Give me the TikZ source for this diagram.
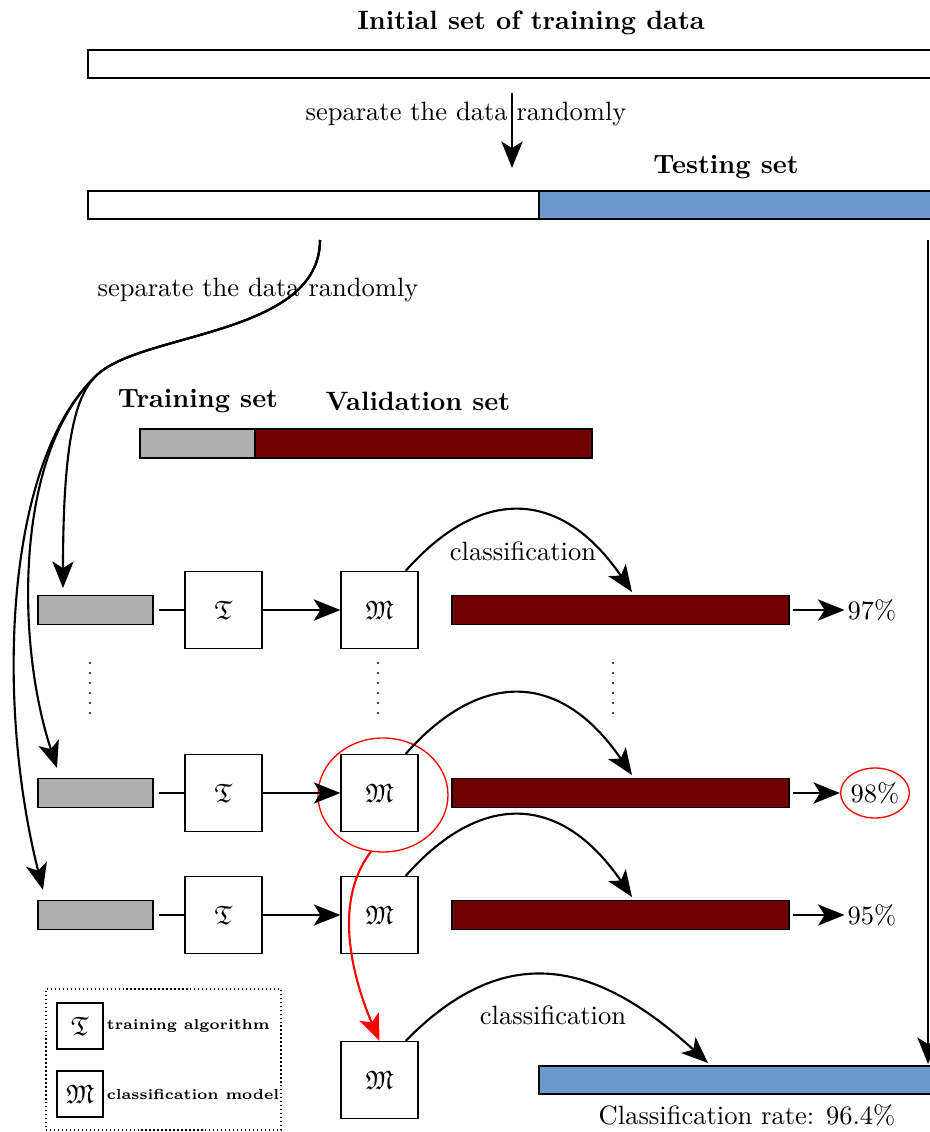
\documentclass[tikz,border=0pt]{standalone}
\usepackage{amssymb}
\usetikzlibrary{arrows.meta,shapes.geometric}
\newdimen\pxu \pxu=0.377pt
\definecolor{tblue}{RGB}{108,154,204}
\definecolor{vred}{RGB}{112,0,0}
\definecolor{tgray}{RGB}{175,175,175}
\tikzset{
  arr/.style={line width=0.8pt, -{Stealth[length=10pt,width=8pt,inset=2.5pt]}},
  plain/.style={line width=0.8pt},
  bar/.style={draw, line width=0.7pt, inner sep=0pt, minimum height=28*\pxu},
  gbar/.style={bar, fill=tgray, minimum width=115*\pxu, minimum height=29*\pxu},
  vbar/.style={bar, fill=vred, minimum width=337*\pxu, minimum height=29*\pxu},
  box/.style={draw, line width=0.5pt, inner sep=0pt, minimum size=77*\pxu},
  lbox/.style={draw, line width=0.5pt, inner sep=0pt, minimum size=46*\pxu},
  pct/.style={inner sep=1pt},
  dotline/.style={line width=0.8pt, line cap=round, dash pattern=on 0pt off 3.77pt},
  ltext/.style={anchor=west, inner sep=1pt, font=\fontsize{5.5}{6.5}\selectfont\bfseries}
}
\begin{document}
\begin{tikzpicture}[x=0.377pt, y=-0.377pt]
\useasboundingbox (0,0) rectangle (930,1132);

% top part
\node[font=\bfseries] (title) at (531,23) {Initial set of training data};
\node[bar, fill=white, minimum width=887*\pxu] (init) at (531.5,64) {};
\node (sep1) at (466,114) {separate the data randomly};
\coordinate (a1s) at (512,93);
\coordinate (a1e) at (512,168);
\draw[arr] (a1s) -- (a1e);

\node[font=\bfseries] (tstl) at (726,167) {Testing set};
\node[bar, fill=white, minimum width=451*\pxu] (trn) at (313.5,205) {};
\node[bar, fill=tblue, minimum width=436*\pxu] (tst) at (757,205) {};

% random separation into training / validation
\node (sep2) at (258,290) {separate the data randomly};
\coordinate (s2) at (320,240);
\coordinate (j) at (98,374);
\coordinate (b1) at (63,588);
\coordinate (b2) at (57,768);
\coordinate (b3) at (43,890);
\draw[arr] (s2) .. controls (320,335) and (145,332) .. (j) .. controls (78,392) and (63,430) .. (b1);
\draw[arr] (s2) .. controls (320,335) and (145,332) .. (j) .. controls (15,450) and (15,640) .. (b2);
\draw[arr] (s2) .. controls (320,335) and (145,332) .. (j) .. controls (5,458) and (-5,700) .. (b3);

\node[font=\bfseries] (trl) at (198,401) {Training set};
\node[font=\bfseries] (vll) at (418,401) {Validation set};
\node[gbar] (tsb) at (197.5,443.5) {};
\node[vbar] (vsb) at (423.5,443.5) {};

% selection ellipse (drawn below the arrows)
\node[ellipse, draw=red, line width=0.5pt, minimum width=130*\pxu, minimum height=114*\pxu, inner sep=0pt] (sel) at (383,795) {};

% rows
\foreach \r/\y in {1/610,2/793,3/915}{
  \node[gbar] (g\r) at (95.5,\y) {};
  \node[box] (t\r) at (223.5,\y) {$\mathfrak{T}$};
  \node[box] (m\r) at (379.5,\y) {$\mathfrak{M}$};
  \node[vbar] (v\r) at (620.5,\y) {};
  \coordinate (c\r) at (632,\y-18);
  \draw[plain, shorten <=1.9pt] (g\r) -- (t\r);
  \draw[arr] (t\r) -- (m\r);
  \draw[arr] ([xshift=-4.9pt]m\r.north east) .. controls (480,\y-123) and (560,\y-123) .. (c\r);
}
\node (cl1) at (523,551) {classification};

\node[pct] (p1) at (872,610) {97\%};
\node[pct, ellipse, draw=red, line width=0.5pt, minimum width=64*\pxu, minimum height=50*\pxu, inner sep=0pt] (p2) at (875,793) {98\%};
\node[pct] (p3) at (872,915) {95\%};
\foreach \r in {1,2,3}{
  \draw[arr, shorten <=1.1pt] (v\r) -- (p\r);
}

% vertical dots
\draw[dotline] (90,663) -- (90,723);
\draw[dotline] (378,663) -- (378,723);
\draw[dotline] (613,663) -- (613,723);

% best model
\node[box] (mb) at (379.5,1080) {$\mathfrak{M}$};
\draw[arr, red] (sel.258) .. controls (330,905) and (356,986) .. (mb.north);

% final classification
\node[bar, fill=tblue, minimum width=436*\pxu] (fb) at (757,1080) {};
\coordinate (cb) at (708,1063);
\node (cl2) at (553,1015) {classification};
\draw[arr] ([xshift=-4.9pt]mb.north east) .. controls (505,940) and (595,960) .. (cb);
\node (rate) at (747,1115) {Classification rate: 96.4\%};

% testing set goes straight down
\coordinate (rs) at (928,240);
\coordinate (re) at (928,1064);
\draw[arr] (rs) -- (re);

% legend
\node[draw, densely dotted, line width=0.5pt, minimum width=235*\pxu, minimum height=141*\pxu, inner sep=0pt] (leg) at (163.5,1059.5) {};
\node[lbox] (lt) at (80,1026) {$\mathfrak{T}$};
\node[lbox] (lm) at (80,1094) {$\mathfrak{M}$};
\node[ltext] (ltt) at (lt.east) {training algorithm};
\node[ltext] (lmt) at (lm.east) {classification model};
\end{tikzpicture}
\end{document}
